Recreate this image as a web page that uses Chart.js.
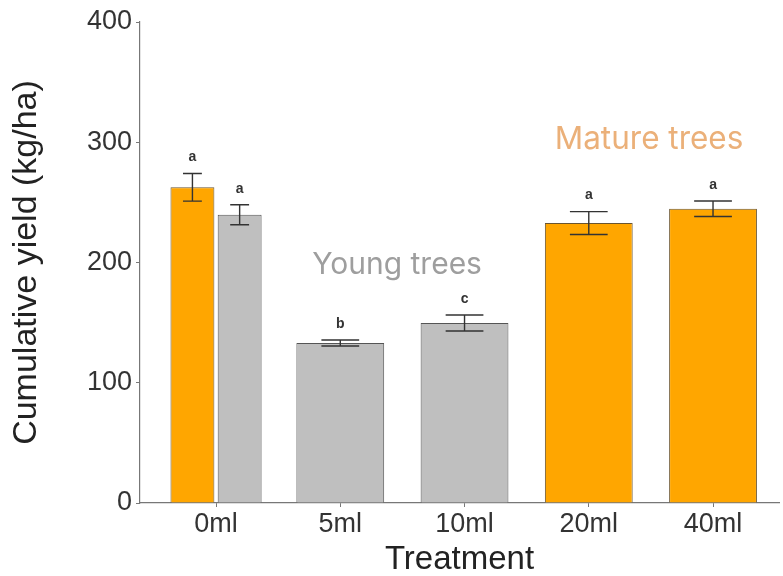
<!DOCTYPE html>
<html>
<head>
<meta charset="utf-8">
<script src="https://cdn.jsdelivr.net/npm/chart.js@4"></script>
<style>
  html, body { margin: 0; padding: 0; background: #fff; }
  #wrap { width: 783px; height: 576px; position: relative; }
</style>
</head>
<body>
<div id="wrap"><canvas id="c"></canvas></div>
<script>
// Treatments along the x axis
const categories = ['0ml', '5ml', '10ml', '20ml', '40ml'];

// Cumulative yield (kg/ha), null where a group has no bar
const matureYield = [262.5, null, null, 232.8, 244.7];
const youngYield  = [239.7, 133.0, 149.7, null, null];

// Standard error of each mean
const matureErr = [11.5, null, null, 9.5, 6.5];
const youngErr  = [8.3, 2.5, 6.7, null, null];

// Significance letters
const matureLetters = ['a', null, null, 'a', 'a'];
const youngLetters  = ['a', 'b', 'c', null, null];

// Y axis ticks
const yTicks = [0, 100, 200, 300, 400];

const toPoints = arr => arr.map((v, i) => ({ x: i, y: v }));

const errorBarPlugin = {
  id: 'errorBars',
  afterDatasetsDraw(chart) {
    const ctx = chart.ctx;
    const yScale = chart.scales.y;
    chart.data.datasets.forEach((ds, di) => {
      const meta = chart.getDatasetMeta(di);
      meta.data.forEach((bar, i) => {
        const v = ds.data[i].y;
        const e = ds.errors[i];
        if (v == null || e == null) return;
        const x = bar.x;
        const cap = bar.width * 0.43 / 2;
        const yTop = yScale.getPixelForValue(v + e);
        const yBot = yScale.getPixelForValue(v - e);
        ctx.save();
        ctx.strokeStyle = '#333';
        ctx.lineWidth = 1.4;
        ctx.beginPath();
        ctx.moveTo(x, yTop); ctx.lineTo(x, yBot);
        ctx.moveTo(x - cap, yTop); ctx.lineTo(x + cap, yTop);
        ctx.moveTo(x - cap, yBot); ctx.lineTo(x + cap, yBot);
        ctx.stroke();
        const letter = ds.letters[i];
        if (letter) {
          ctx.fillStyle = '#333';
          ctx.font = 'bold 14px "Liberation Sans", Arial, sans-serif';
          ctx.textAlign = 'center';
          ctx.textBaseline = 'middle';
          ctx.fillText(letter, x, yTop - 16);
        }
        ctx.restore();
      });
    });
  }
};

// Group annotations placed in data coordinates
const groupLabels = [
  { text: 'Young trees',  x: 1.457, y: 198, color: '#9e9e9e', size: 30 },
  { text: 'Mature trees', x: 3.485, y: 302, color: '#ebb079', size: 31.5 }
];

const groupLabelPlugin = {
  id: 'groupLabels',
  afterDraw(chart) {
    const ctx = chart.ctx;
    groupLabels.forEach(l => {
      ctx.save();
      ctx.fillStyle = l.color;
      ctx.font = l.size + 'px Inter, "Open Sans", sans-serif';
      ctx.textAlign = 'center';
      ctx.textBaseline = 'middle';
      ctx.fillText(l.text, chart.scales.x.getPixelForValue(l.x), chart.scales.y.getPixelForValue(l.y));
      ctx.restore();
    });
  }
};

const axisFont = { family: '"Liberation Sans", Arial, sans-serif', size: 27 };

new Chart(document.getElementById('c'), {
  type: 'bar',
  data: {
    datasets: [
      {
        label: 'Mature trees',
        data: toPoints(matureYield),
        errors: matureErr,
        letters: matureLetters,
        backgroundColor: '#ffa600',
        borderColor: '#6a5530',
        borderWidth: 1
      },
      {
        label: 'Young trees',
        data: toPoints(youngYield),
        errors: youngErr,
        letters: youngLetters,
        backgroundColor: '#bfbfbf',
        borderColor: '#555555',
        borderWidth: 1
      }
    ]
  },
  options: {
    responsive: true,
    maintainAspectRatio: false,
    animation: false,
    skipNull: true,
    categoryPercentage: 0.76,
    barPercentage: 0.93,
    layout: { padding: { top: 22, right: 4, bottom: 0, left: 0 } },
    plugins: { legend: { display: false }, tooltip: { enabled: false } },
    scales: {
      x: {
        type: 'linear',
        offset: false,
        min: -0.612,
        max: 4.531,
        afterBuildTicks: s => { s.ticks = categories.map((c, i) => ({ value: i })); },
        afterFit: s => { s.height = 73; },
        ticks: {
          callback: v => categories[v] ?? '',
          font: axisFont,
          color: '#333',
          padding: 1,
          maxRotation: 0,
          autoSkip: false
        },
        grid: { offset: false, drawOnChartArea: false, drawTicks: true, tickLength: 4, color: '#777' },
        border: { display: true, color: '#777', width: 1.2 },
        title: {
          display: true,
          text: 'Treatment',
          font: { family: '"Liberation Sans", Arial, sans-serif', size: 33, lineHeight: 1 },
          color: '#222',
          padding: 0
        }
      },
      y: {
        min: 0,
        max: 400,
        afterBuildTicks: s => { s.ticks = yTicks.map(v => ({ value: v })); },
        afterFit: s => { s.width = 140; },
        ticks: { font: axisFont, color: '#333', padding: 4 },
        grid: { drawOnChartArea: false, drawTicks: true, tickLength: 4, color: '#777' },
        border: { display: true, color: '#777', width: 1.2 },
        title: {
          display: true,
          text: 'Cumulative yield (kg/ha)',
          font: { family: '"Liberation Sans", Arial, sans-serif', size: 34, lineHeight: 1 },
          color: '#222',
          padding: { top: 10, bottom: 0 }
        }
      }
    }
  },
  plugins: [errorBarPlugin, groupLabelPlugin]
});
</script>
</body>
</html>
